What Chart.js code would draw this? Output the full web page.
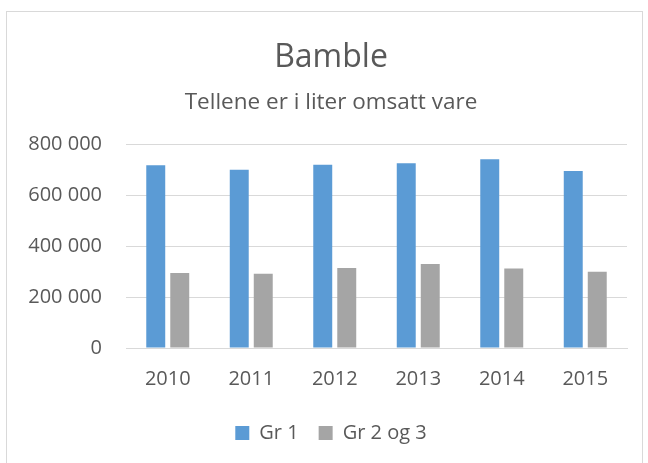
<!DOCTYPE html>
<html>
<head>
<meta charset="utf-8">
<script src="https://cdn.jsdelivr.net/npm/chart.js@4/dist/chart.umd.min.js"></script>
<style>
    body { margin: 0; background: #ffffff; }
    #frame { position: absolute; left: 6px; top: 11px; width: 635px; height: 470px; border: 1px solid #d9d9d9; }
    #wrap { position: absolute; left: 0; top: 0; width: 648px; height: 463px; }
</style>
</head>
<body>
<div id="frame"></div>
<div id="wrap"><canvas id="chart" width="648" height="463"></canvas></div>
<script>
// Data (liter)
const years = ['2010', '2011', '2012', '2013', '2014', '2015'];
const gr1 = [718000, 700000, 720000, 726000, 742000, 695000];
const gr23 = [295000, 292000, 314000, 330000, 312000, 300000];
const yTicks = [0, 200000, 400000, 600000, 800000];

const textColor = '#595959';
const gridColor = '#d9d9d9';
const fontFamily = '"Open Sans", sans-serif';

function formatNumber(v) {
    return String(v).replace(/\B(?=(\d{3})+(?!\d))/g, ' ');
}

const ctx = document.getElementById('chart').getContext('2d');
new Chart(ctx, {
    type: 'bar',
    data: {
        labels: years,
        datasets: [
            { label: 'Gr 1', data: gr1, backgroundColor: '#5b9bd5' },
            { label: 'Gr 2 og 3', data: gr23, backgroundColor: '#a5a5a5' }
        ]
    },
    options: {
        responsive: false,
        animation: false,
        devicePixelRatio: 1,
        categoryPercentage: 0.575,
        barPercentage: 0.79,
        layout: { padding: { left: 14, right: 0, top: 0, bottom: 10 } },
        plugins: {
            title: {
                display: true,
                text: 'Bamble',
                color: textColor,
                font: { family: fontFamily, size: 32, weight: 'normal', lineHeight: 1.2 },
                padding: { top: 39, bottom: 0 }
            },
            subtitle: {
                display: true,
                text: 'Tellene er i liter omsatt vare',
                color: textColor,
                font: { family: fontFamily, size: 22.5, weight: 'normal', lineHeight: 1.2 },
                padding: { top: 12, bottom: 28 }
            },
            legend: {
                position: 'bottom',
                labels: {
                    color: textColor,
                    boxWidth: 14,
                    boxHeight: 14,
                    padding: 20,
                    font: { family: fontFamily, size: 20 }
                }
            },
            tooltip: { enabled: false }
        },
        scales: {
            x: {
                grid: { display: false, drawTicks: false },
                border: { display: true, color: gridColor },
                ticks: { color: textColor, padding: 19, font: { family: fontFamily, size: 20 } },
                afterFit: scale => { scale.height = 55; }
            },
            y: {
                min: 0,
                max: 800000,
                afterBuildTicks: scale => { scale.ticks = yTicks.map(v => ({ value: v })); },
                grid: { color: gridColor, drawTicks: false },
                border: { display: false },
                ticks: {
                    color: textColor,
                    padding: 24,
                    font: { family: fontFamily, size: 20 },
                    callback: v => formatNumber(v)
                },
                afterFit: scale => { scale.width = 112; }
            },
            // empty right-hand strip, keeps the plot off the right edge
            yRight: {
                position: 'right',
                grid: { display: false, drawTicks: false },
                border: { display: false },
                ticks: { display: false },
                afterFit: scale => { scale.width = 21; }
            }
        }
    }
});
</script>
</body>
</html>
